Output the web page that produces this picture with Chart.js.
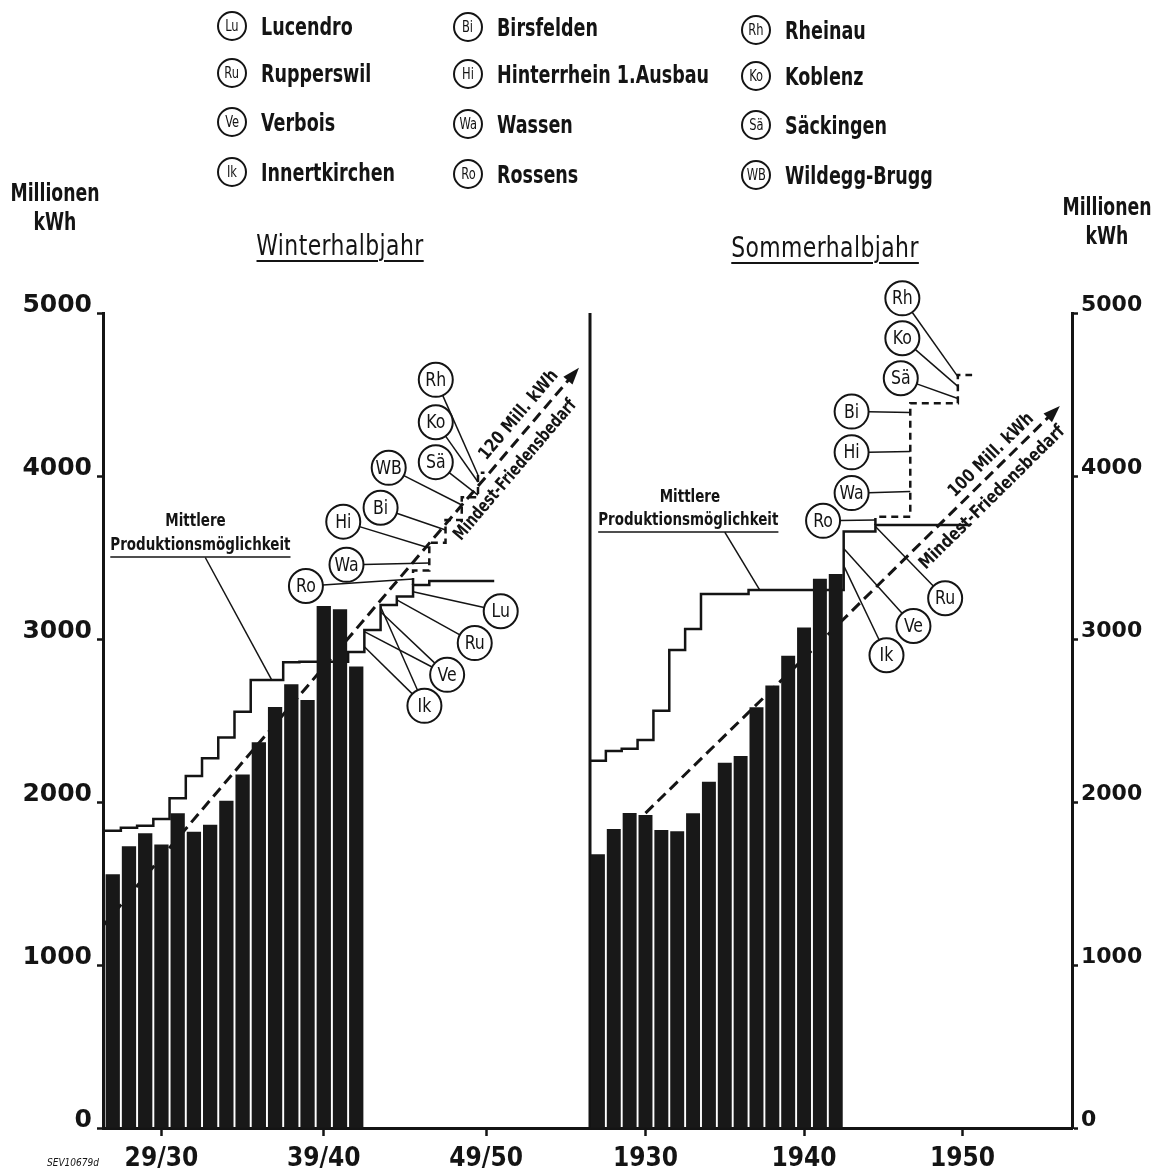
<!DOCTYPE html>
<html>
<head>
<meta charset="utf-8">
<script src="https://cdn.jsdelivr.net/npm/chart.js@4.4.1/dist/chart.umd.min.js"></script>
<style>
  html, body { margin: 0; padding: 0; background: #fff; }
  #page { position: relative; width: 1163px; height: 1173px; overflow: hidden; color: #141414;
          font-family: "DejaVu Sans Condensed", sans-serif; }
  canvas { position: absolute; top: 0; }
  .txt { position: absolute; white-space: nowrap; font-weight: bold; transform: translate(-50%, -50%) scaleX(0.8); }
  .ring { position: absolute; width: 26px; height: 26px; border: 2px solid #141414; border-radius: 50%;
          font-size: 15px; line-height: 26px; text-align: center; transform: translate(-50%, -50%); }
  .ring span { display: inline-block; transform: scaleX(0.85); }
  .name { position: absolute; white-space: nowrap; font-size: 25px; font-weight: bold;
          transform-origin: left center; transform: translateY(-50%) scaleX(0.78); }
  .title { font-weight: normal; font-size: 29px; letter-spacing: 0.5px; text-decoration: underline;
           text-decoration-thickness: 2px; text-underline-offset: 5px; transform: translate(-50%, -50%) scaleX(0.84); }
  .unit { font-size: 24px; line-height: 29px; text-align: center; }
</style>
</head>
<body>
<div id="page">
  <canvas id="winter" width="600" height="1173" style="left:0"></canvas>
  <canvas id="summer" width="578" height="1173" style="left:585px"></canvas>
  <div class="txt title" style="left:340px;top:245px">Winterhalbjahr</div>
  <div class="txt title" style="left:825px;top:247px">Sommerhalbjahr</div>
  <div class="txt unit" style="left:55px;top:208px">Millionen<br>kWh</div>
  <div class="txt unit" style="left:1107px;top:222px">Millionen<br>kWh</div>
  <div style="position:absolute;left:47px;top:1157px;font-size:10px;font-style:italic">SEV10679d</div>
</div>
<script>
// Winterhalbjahr: Jahr = Beginn des Winters (1926 -> 26/27)
var winterYears = [1926, 1927, 1928, 1929, 1930, 1931, 1932, 1933, 1934, 1935, 1936, 1937, 1938, 1939, 1940, 1941];
var winterProd  = [1556, 1728, 1808, 1740, 1931, 1818, 1861, 2008, 2168, 2366, 2583, 2722, 2626, 3202, 3182, 2832];
var winterMeanYears = [1926, 1927, 1928, 1929, 1930, 1931, 1932, 1933, 1934, 1935, 1936, 1937,
                       1938, 1939, 1940, 1941, 1942, 1943, 1944, 1945, 1946, 1947, 1948, 1949];
var winterMean = [1824, 1842, 1855, 1896, 2023, 2160, 2268, 2395, 2554, 2748, 2748, 2857,
                  2860, 2860, 2860, 2920, 3055, 3209, 3260, 3331, 3356, 3356, 3356, 3356];
var winterPlanX = [1944.5, 1945.5, 1946.5, 1947.5, 1948.5, 1948.9];
var winterPlanY = [3331, 3420, 3590, 3730, 3870, 4020];
var winterNeedX = [1925.4, 1954.6];
var winterNeedY = [1240, 4650];
var winterTicks = [1929, 1939, 1949];

// Sommerhalbjahr
var summerYears = [1927, 1928, 1929, 1930, 1931, 1932, 1933, 1934, 1935, 1936, 1937, 1938, 1939, 1940, 1941, 1942];
var summerProd  = [1679, 1834, 1933, 1920, 1828, 1820, 1931, 2125, 2241, 2282, 2581, 2714, 2898, 3071, 3370, 3399];
var summerMeanYears = [1927, 1928, 1929, 1930, 1931, 1932, 1933, 1934, 1935, 1936, 1937, 1938,
                       1939, 1940, 1941, 1942, 1943, 1944, 1945, 1946, 1947, 1948, 1949, 1950];
var summerMean = [2253, 2313, 2327, 2380, 2560, 2933, 3061, 3276, 3276, 3276, 3301, 3301,
                  3301, 3301, 3301, 3301, 3660, 3660, 3700, 3700, 3700, 3700, 3700, 3700];
var summerPlanX = [1944.5, 1946.7, 1949.7, 1950.6];
var summerPlanY = [3700, 3750, 4446, 4620];
var summerNeedX = [1930, 1939, 1956.0];
var summerNeedY = [1932, 2787, 4417];
var summerTicks = [1930, 1940, 1950];

var valueTicks = [0, 1000, 2000, 3000, 4000, 5000];

// Legende
var legendCodes = [['Lu', 'Ru', 'Ve', 'Ik'], ['Bi', 'Hi', 'Wa', 'Ro'], ['Rh', 'Ko', 'Sä', 'WB']];
var legendNames = [['Lucendro', 'Rupperswil', 'Verbois', 'Innertkirchen'],
                   ['Birsfelden', 'Hinterrhein 1.Ausbau', 'Wassen', 'Rossens'],
                   ['Rheinau', 'Koblenz', 'Säckingen', 'Wildegg-Brugg']];

// Kraftwerk-Marken: [Kürzel, Jahr, Wert, [Zielpunkte auf der Treppe]]
var winterMarks = [
  ['Rh', 1945.9, 4590, [[1948.5, 4006]]],
  ['Ko', 1945.9, 4330, [[1948.5, 3963]]],
  ['Sä', 1945.9, 4085, [[1948.5, 3883]]],
  ['WB', 1943.0, 4050, [[1947.5, 3822]]],
  ['Bi', 1942.5, 3805, [[1946.5, 3669]]],
  ['Hi', 1940.2, 3720, [[1945.5, 3558]]],
  ['Wa', 1940.4, 3455, [[1945.5, 3466]]],
  ['Ro', 1937.9, 3325, [[1944.5, 3368]]],
  ['Lu', 1949.9, 3170, [[1944.5, 3290]]],
  ['Ru', 1948.3, 2975, [[1943.5, 3240]]],
  ['Ve', 1946.6, 2780, [[1942.5, 3167], [1941.5, 3045]]],
  ['Ik', 1945.2, 2590, [[1942.5, 3198], [1941.5, 2953]]]
];
var summerMarks = [
  ['Rh', 1946.2, 5090, [[1949.7, 4610]]],
  ['Ko', 1946.2, 4845, [[1949.7, 4550]]],
  ['Sä', 1946.1, 4600, [[1949.7, 4475]]],
  ['Bi', 1943.0, 4395, [[1946.7, 4390]]],
  ['Hi', 1943.0, 4145, [[1946.7, 4150]]],
  ['Wa', 1943.0, 3895, [[1946.7, 3905]]],
  ['Ro', 1941.2, 3725, [[1944.5, 3730]]],
  ['Ru', 1948.9, 3250, [[1944.5, 3690]]],
  ['Ve', 1946.9, 3080, [[1942.5, 3555]]],
  ['Ik', 1945.2, 2900, [[1942.5, 3450]]]
];

var INK = '#141414';
var FONT = '"DejaVu Sans Condensed", sans-serif';

// legend (html)
var page = document.getElementById('page');
var legendX = [232, 468, 756];
var legendY = [[26, 73, 122, 172], [27, 74, 124, 174], [30, 76, 125, 175]];
legendCodes.forEach(function (col, c) {
  col.forEach(function (code, r) {
    var ring = document.createElement('div');
    ring.className = 'ring';
    ring.style.left = legendX[c] + 'px';
    ring.style.top = legendY[c][r] + 'px';
    ring.innerHTML = '<span>' + code + '</span>';
    page.appendChild(ring);
    var nm = document.createElement('div');
    nm.className = 'name';
    nm.style.left = (legendX[c] + 29) + 'px';
    nm.style.top = legendY[c][r] + 'px';
    nm.textContent = legendNames[c][r];
    page.appendChild(nm);
  });
});

function xy(xs, ys) {
  return xs.map(function (x, i) { return { x: x, y: ys[i] }; });
}
// treppe: jeder Jahreswert gilt vom Jahresbeginn bis zum Jahresende
function steps(years, vals) {
  var pts = years.map(function (yr, i) { return { x: yr - 0.5, y: vals[i] }; });
  pts.push({ x: years[years.length - 1] + 0.5, y: vals[vals.length - 1] });
  return pts;
}

// schmal gesetzter Text (wie die Schablonenschrift im Original)
function narrowText(ctx, txt, x, y, rot, sx) {
  ctx.save();
  ctx.translate(x, y);
  if (rot) ctx.rotate(rot);
  ctx.scale(sx, 1);
  ctx.fillText(txt, 0, 0);
  ctx.restore();
}

function makeDeco(cfg) {
  return {
    id: 'deco',
    beforeDatasetsDraw: function (chart) {
      if (!cfg.frameLeft) return;
      var a = chart.chartArea, ctx = chart.ctx;
      ctx.save();
      ctx.strokeStyle = INK; ctx.lineWidth = 3;
      ctx.beginPath(); ctx.moveTo(a.left, a.top); ctx.lineTo(a.left, a.bottom); ctx.stroke();
      ctx.restore();
    },
    afterDatasetsDraw: function (chart) {
      var ctx = chart.ctx, sx = chart.scales.x, sy = chart.scales.y;
      function px(v) { return sx.getPixelForValue(v); }
      function py(v) { return sy.getPixelForValue(v); }
      ctx.save();
      ctx.strokeStyle = INK; ctx.fillStyle = INK;

      // arrow head of the Mindest-Friedensbedarf line
      var pts = chart.getDatasetMeta(cfg.need).data, n = pts.length;
      var p0 = pts[n - 2], p1 = pts[n - 1];
      var ang = Math.atan2(p1.y - p0.y, p1.x - p0.x), c = Math.cos(ang), s = Math.sin(ang);
      ctx.beginPath();
      ctx.moveTo(p1.x + 3 * c, p1.y + 3 * s);
      ctx.lineTo(p1.x - 14 * c - 6 * s, p1.y - 14 * s + 6 * c);
      ctx.lineTo(p1.x - 14 * c + 6 * s, p1.y - 14 * s - 6 * c);
      ctx.closePath(); ctx.fill();

      // texts along the arrow
      var ax = px(cfg.needText.at), t = (ax - p0.x) / (p1.x - p0.x), ay = p0.y + t * (p1.y - p0.y);
      ctx.font = 'bold 18px ' + FONT;
      ctx.textAlign = 'center'; ctx.textBaseline = 'middle';
      cfg.needText.lines.forEach(function (l) {
        var cx = ax + l[1] * c - l[2] * s, cy = ay + l[1] * s + l[2] * c;
        narrowText(ctx, l[0], cx, cy, ang, l[3]);
      });

      // "Mittlere Produktionsmöglichkeit"
      ctx.font = 'bold 17px ' + FONT;
      ctx.lineWidth = 1.5;
      cfg.note.lines.forEach(function (l) {
        var x = px(l[1]), y = py(l[2]);
        narrowText(ctx, l[0], x, y, 0, 0.88);
        if (l[3]) {
          var w = ctx.measureText(l[0]).width * 0.88;
          ctx.beginPath(); ctx.moveTo(x - w / 2, y + 11); ctx.lineTo(x + w / 2, y + 11); ctx.stroke();
        }
      });
      ctx.beginPath();
      ctx.moveTo(px(cfg.note.leader[0][0]), py(cfg.note.leader[0][1]));
      ctx.lineTo(px(cfg.note.leader[1][0]), py(cfg.note.leader[1][1]));
      ctx.stroke();

      // power station marks with leader lines
      var R = 17;
      ctx.lineWidth = 1.5;
      cfg.marks.forEach(function (m) {
        var cx = px(m[1]), cy = py(m[2]);
        m[3].forEach(function (tg) {
          var tx = px(tg[0]), ty = py(tg[1]), a = Math.atan2(ty - cy, tx - cx);
          ctx.beginPath();
          ctx.moveTo(cx + R * Math.cos(a), cy + R * Math.sin(a));
          ctx.lineTo(tx, ty);
          ctx.stroke();
        });
      });
      ctx.font = '19px ' + FONT;
      cfg.marks.forEach(function (m) {
        var cx = px(m[1]), cy = py(m[2]);
        ctx.beginPath(); ctx.arc(cx, cy, R, 0, Math.PI * 2);
        ctx.fillStyle = '#fff'; ctx.fill();
        ctx.lineWidth = 2; ctx.stroke();
        ctx.fillStyle = INK;
        narrowText(ctx, m[0], cx, cy + 1, 0, 0.92);
      });
      ctx.restore();
    }
  };
}

function makeChart(id, o) {
  return new Chart(document.getElementById(id), {
    type: 'bar',
    data: {
      datasets: [{
        type: 'bar',
        data: xy(o.years, o.prod),
        backgroundColor: '#181818',
        barPercentage: 0.88,
        categoryPercentage: 1,
        order: 0
      }, {
        type: 'line',
        data: steps(o.meanYears, o.mean),
        stepped: true,
        borderColor: INK, borderWidth: 2.5, pointRadius: 0, fill: false,
        order: 2
      }, {
        type: 'line',
        data: xy(o.planX, o.planY),
        stepped: 'after',
        borderColor: INK, borderWidth: 2.5, borderDash: [7, 5], pointRadius: 0, fill: false,
        order: 2
      }, {
        type: 'line',
        data: xy(o.needX, o.needY),
        borderColor: INK, borderWidth: 3, borderDash: [11, 6], fill: false,
        pointRadius: o.needDots, pointBackgroundColor: '#fff', pointBorderColor: INK, pointBorderWidth: 1.5,
        order: 3
      }]
    },
    options: {
      responsive: false,
      animation: false,
      layout: { padding: o.padding },
      plugins: { legend: { display: false }, tooltip: { enabled: false } },
      scales: {
        x: {
          type: 'linear', min: o.xMin, max: o.xMax, offset: false,
          afterBuildTicks: function (s) { s.ticks = o.ticks.map(function (v) { return { value: v }; }); },
          afterFit: function (s) { s.height = 45; s.paddingLeft = 0; s.paddingRight = 0; },
          ticks: {
            callback: o.tickLabel, autoSkip: false, maxRotation: 0, padding: 8, color: INK,
            font: { family: FONT, size: 26, weight: 'bold' }
          },
          grid: { drawOnChartArea: false, offset: false, tickLength: 8, tickWidth: 2.5, color: INK },
          border: { display: true, width: 3, color: INK }
        },
        y: {
          position: o.yPos, min: 0, max: 5000,
          afterBuildTicks: function (s) { s.ticks = valueTicks.map(function (v) { return { value: v }; }); },
          afterFit: function (s) { s.width = o.yWidth; s.paddingTop = 0; s.paddingBottom = 0; },
          ticks: {
            callback: function (v) { return String(v); }, padding: o.yPad, labelOffset: -8, color: INK,
            font: { family: '"DejaVu Sans", sans-serif', size: o.ySize, weight: 'bold' }
          },
          grid: { drawOnChartArea: false, tickLength: 6, tickWidth: 2.5, color: INK },
          border: { display: true, width: 3, color: INK }
        }
      }
    },
    plugins: [makeDeco(o.deco)]
  });
}

function two(v) { return ('0' + (v % 100)).slice(-2); }

makeChart('winter', {
  years: winterYears, prod: winterProd, meanYears: winterMeanYears, mean: winterMean,
  planX: winterPlanX, planY: winterPlanY, needX: winterNeedX, needY: winterNeedY, needDots: 0,
  xMin: 1925.4, xMax: 1955.4, ticks: winterTicks,
  tickLabel: function (v) { return two(v) + '/' + two(v + 1); },
  padding: { top: 313, right: 10, bottom: 0, left: 0 },
  yPos: 'left', yWidth: 103, yPad: 5, ySize: 25,
  deco: {
    need: 3, marks: winterMarks,
    needText: { at: 1951, lines: [['120 Mill. kWh', 18, -15, 0.9], ['Mindest-Friedensbedarf', -26, 18, 0.82]] },
    note: {
      lines: [['Mittlere', 1931.1, 3718], ['Produktionsmöglichkeit', 1931.4, 3571, true]],
      leader: [[1931.7, 3500], [1935.8, 2748]]
    }
  }
});

makeChart('summer', {
  years: summerYears, prod: summerProd, meanYears: summerMeanYears, mean: summerMean,
  planX: summerPlanX, planY: summerPlanY, needX: summerNeedX, needY: summerNeedY, needDots: [0, 3, 0],
  xMin: 1926.5, xMax: 1956.9, ticks: summerTicks,
  tickLabel: function (v) { return String(v); },
  padding: { top: 313, right: 0, bottom: 0, left: 5 },
  yPos: 'right', yWidth: 91, yPad: 3, ySize: 22,
  deco: {
    frameLeft: true, need: 3, marks: summerMarks,
    needText: { at: 1951.8, lines: [['100 Mill. kWh', 13, -13, 0.9], ['Mindest-Friedensbedarf', -16, 18, 0.9]] },
    note: {
      lines: [['Mittlere', 1932.8, 3865], ['Produktionsmöglichkeit', 1932.7, 3724, true]],
      leader: [[1935.0, 3655], [1937.2, 3301]]
    }
  }
});
</script>
</body>
</html>
